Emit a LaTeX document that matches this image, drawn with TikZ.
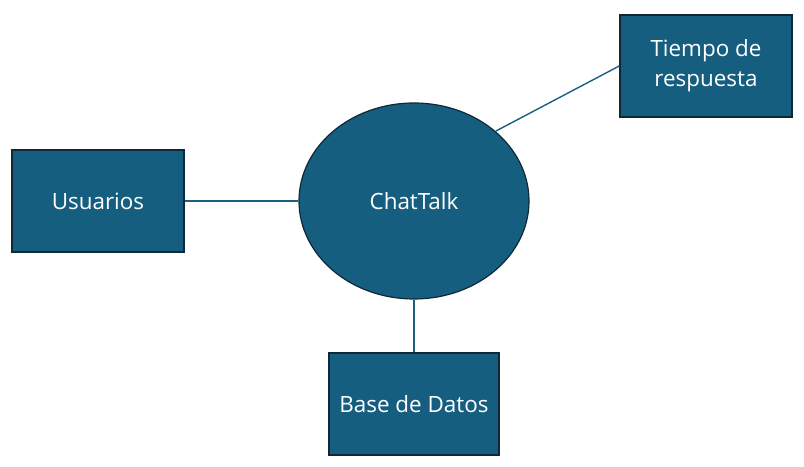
\documentclass[tikz,border=0pt]{standalone}
\usepackage{fontspec}
\setmainfont{Open Sans}
\usetikzlibrary{shapes.geometric}
\definecolor{boxfill}{RGB}{22,94,127}
\definecolor{boxedge}{RGB}{14,40,56}
\definecolor{linkcol}{RGB}{27,96,130}
\tikzset{
  every node/.style={font=\fontsize{22.5}{30}\selectfont, text=white},
  entity/.style={rectangle, draw=boxedge, fill=boxfill, line width=1.5bp, minimum width=172bp, minimum height=102bp, align=center, inner sep=0pt},
  hub/.style={ellipse, draw=boxedge, fill=boxfill, line width=1.2bp, minimum width=230bp, minimum height=196bp, inner sep=0pt},
  link/.style={draw=linkcol, line width=1.4bp}
}
\begin{document}
\begin{tikzpicture}[x=1bp,y=1bp]
\useasboundingbox (0,0) rectangle (804,467);
\node[hub] (chat) at (414,266) {ChatTalk};
\node[entity] (usr) at (98,266) {Usuarios};
\node[entity] (tiempo) at (706,401) {Tiempo de\\respuesta};
\node[entity, minimum width=170bp] (base) at (414,63) {Base de Datos};
\draw[link] (usr.east) -- (chat.west);
\coordinate (c1) at (496,336);
\draw[link] (c1) -- (tiempo.west);
\draw[link] (chat.south) -- (base.north);
\end{tikzpicture}
\end{document}
